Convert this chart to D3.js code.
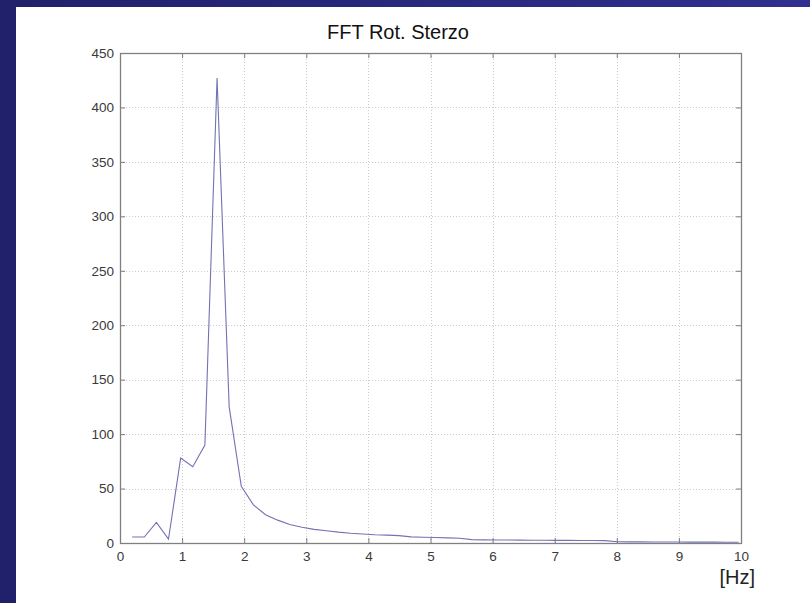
<!DOCTYPE html>
<html>
  <head>
    <meta charset="utf-8" />
    <style>
      body { margin: 0; background: #ffffff; }
      svg { display: block; }
    </style>
  </head>
  <body>
    <svg id="chart"></svg>

    <!-- Load d3.js -->
    <script src="https://d3js.org/d3.v7.min.js"></script>

    <script>
      // frequency bins [Hz] and FFT magnitude
      const freq = [
        0.195, 0.391, 0.586, 0.781, 0.977, 1.172, 1.367, 1.563, 1.758, 1.953,
        2.148, 2.344, 2.539, 2.734, 2.93, 3.125, 3.32, 3.516, 3.711, 3.906,
        4.102, 4.297, 4.492, 4.688, 4.883, 5.078, 5.273, 5.469, 5.664, 5.859,
        6.055, 6.25, 6.445, 6.641, 6.836, 7.031, 7.227, 7.422, 7.617, 7.813,
        8.008, 8.203, 8.398, 8.594, 8.789, 8.984, 9.18, 9.375, 9.57, 9.766,
        9.961,
      ];
      const magnitude = [
        5.5, 5.5, 19, 3.5, 78, 70, 90, 427, 125, 52,
        35, 26, 21, 17, 14.5, 12.5, 11.3, 10, 9, 8.3,
        7.6, 7.2, 6.8, 5.6, 5.3, 5, 4.7, 4.4, 3.1, 2.9,
        2.8, 2.7, 2.6, 2.5, 2.5, 2.4, 2.4, 2.3, 2.3, 2.2,
        1.1, 1.0, 1.0, 0.9, 0.9, 0.9, 0.8, 0.8, 0.8, 0.7,
        0.7,
      ];
      const xTicks = [0, 1, 2, 3, 4, 5, 6, 7, 8, 9, 10];
      const yTicks = [0, 50, 100, 150, 200, 250, 300, 350, 400, 450];
      const title = "FFT Rot. Sterzo";
      const xLabel = "[Hz]";

      const width = 810;
      const height = 603;
      const plot = { left: 120, right: 741, top: 53, bottom: 543 };

      const svg = d3
        .select("#chart")
        .attr("width", width)
        .attr("height", height)
        .attr("font-family", "'Liberation Sans', Arial, sans-serif");

      // slide background: blue frame on the left and top
      const grad = svg
        .append("defs")
        .append("linearGradient")
        .attr("id", "bg")
        .attr("x1", 0)
        .attr("x2", 1);
      grad.append("stop").attr("offset", 0).attr("stop-color", "#20206a");
      grad.append("stop").attr("offset", 1).attr("stop-color", "#30308f");

      svg.append("rect").attr("width", width).attr("height", height).attr("fill", "url(#bg)");
      svg
        .append("rect")
        .attr("x", 16)
        .attr("y", 7)
        .attr("width", width - 16)
        .attr("height", height - 7)
        .attr("fill", "#ffffff");

      const x = d3.scaleLinear().domain([0, 10]).range([plot.left, plot.right]);
      const y = d3.scaleLinear().domain([0, 450]).range([plot.bottom, plot.top]);

      // dotted grid
      const grid = svg
        .append("g")
        .attr("stroke", "#cccccc")
        .attr("stroke-width", 1)
        .attr("stroke-dasharray", "1,2");
      grid
        .selectAll("line.vx")
        .data(xTicks.slice(1, -1))
        .join("line")
        .attr("x1", (d) => Math.round(x(d)) + 0.5)
        .attr("x2", (d) => Math.round(x(d)) + 0.5)
        .attr("y1", plot.top)
        .attr("y2", plot.bottom);
      grid
        .selectAll("line.hy")
        .data(yTicks.slice(1, -1))
        .join("line")
        .attr("y1", (d) => Math.round(y(d)) + 0.5)
        .attr("y2", (d) => Math.round(y(d)) + 0.5)
        .attr("x1", plot.left)
        .attr("x2", plot.right);

      // axes with inward ticks on all four sides
      const axisStyle = (g) => {
        g.select(".domain").remove();
        g.selectAll(".tick line").attr("stroke", "#7a7a7a");
        g.selectAll(".tick text")
          .attr("fill", "#3a3a3a")
          .attr("font-size", 13.5);
      };
      svg
        .append("g")
        .attr("transform", `translate(0,${plot.bottom})`)
        .call(d3.axisBottom(x).tickValues(xTicks).tickFormat(d3.format("d")).tickSizeInner(-5).tickPadding(8))
        .call(axisStyle);
      svg
        .append("g")
        .attr("transform", `translate(0,${plot.top})`)
        .call(d3.axisTop(x).tickValues(xTicks).tickFormat("").tickSizeInner(-5))
        .call(axisStyle);
      svg
        .append("g")
        .attr("transform", `translate(${plot.left},0)`)
        .call(d3.axisLeft(y).tickValues(yTicks).tickFormat(d3.format("d")).tickSizeInner(-5).tickPadding(6))
        .call(axisStyle);
      svg
        .append("g")
        .attr("transform", `translate(${plot.right},0)`)
        .call(d3.axisRight(y).tickValues(yTicks).tickFormat("").tickSizeInner(-5))
        .call(axisStyle);

      svg
        .append("rect")
        .attr("x", plot.left + 0.5)
        .attr("y", plot.top + 0.5)
        .attr("width", plot.right - plot.left)
        .attr("height", plot.bottom - plot.top)
        .attr("fill", "none")
        .attr("stroke", "#808080")
        .attr("stroke-width", 1.3);

      // spectrum line
      const line = d3
        .line()
        .x((d, i) => x(freq[i]))
        .y((d) => y(d));
      svg
        .append("path")
        .datum(magnitude)
        .attr("fill", "none")
        .attr("stroke", "#7272b4")
        .attr("stroke-width", 1.1)
        .attr("d", line);

      svg
        .append("text")
        .attr("x", 398)
        .attr("y", 39)
        .attr("text-anchor", "middle")
        .attr("font-size", 20)
        .attr("fill", "#111")
        .text(title);

      svg
        .append("text")
        .attr("x", 755)
        .attr("y", 584)
        .attr("text-anchor", "end")
        .attr("font-size", 20)
        .attr("fill", "#222")
        .text(xLabel);
    </script>
  </body>
</html>
